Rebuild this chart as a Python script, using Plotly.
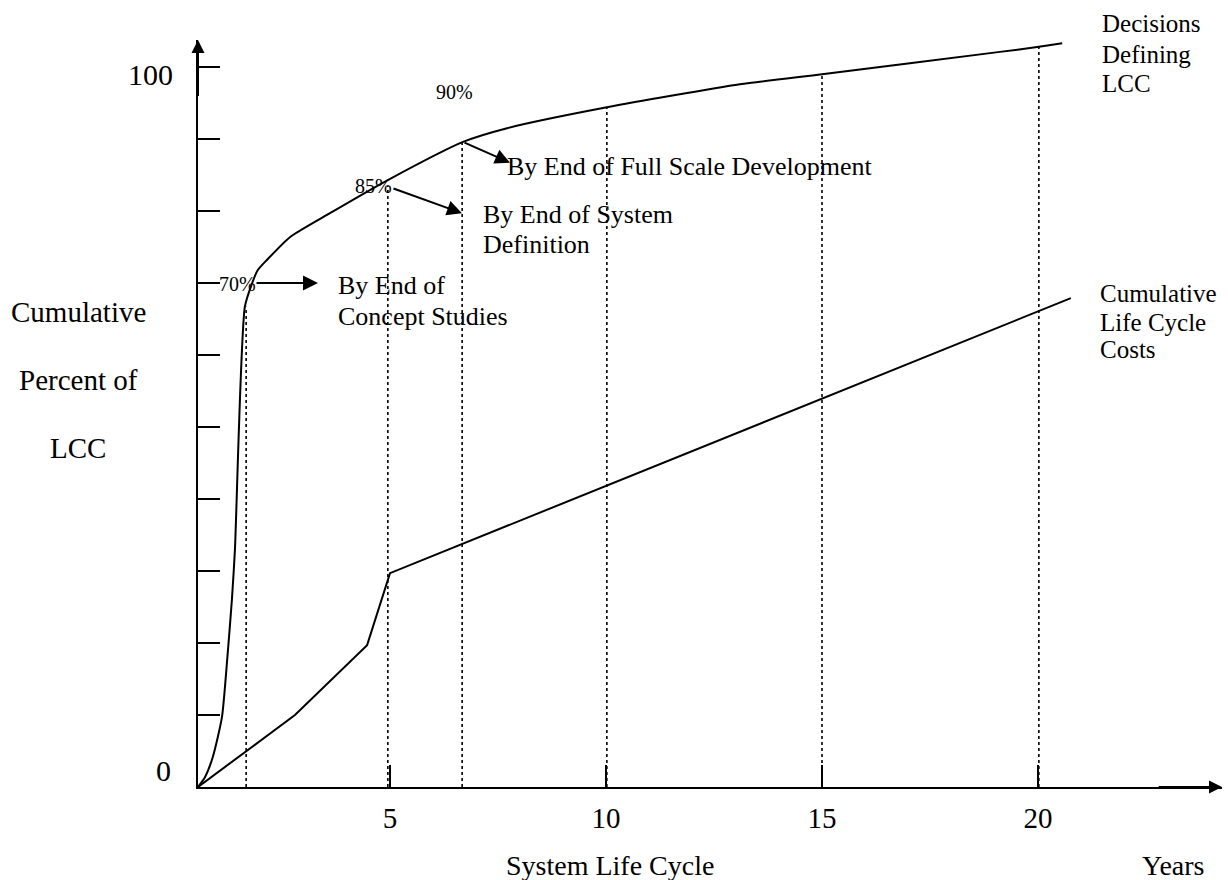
import plotly.graph_objects as go

# ---------------- data ----------------
decision_years = [0.556, 0.72, 0.90, 1.11, 1.23, 1.34, 1.41, 1.64, 1.81, 1.94, 2.15,
                  2.69, 3.61, 4.95, 6.69, 7.71, 10.02, 13.10, 15.0, 19.12, 20.02, 20.56]
decision_pct = [0, 1.4, 4.2, 9.7, 17.6, 26.0, 32.9, 66.7, 70.0, 71.8, 73.2,
                76.4, 79.7, 84.3, 89.6, 91.5, 94.4, 97.6, 99.0, 102.1, 102.8, 103.3]

cost_years = [0.556, 2.80, 4.47, 5.0, 20.76]
cost_pct = [0, 10.0, 19.7, 29.7, 67.9]

milestone_years = [1.67, 4.95, 6.67, 10.02, 15.0, 20.02]
milestone_tops = [66.7, 83.5, 89.6, 94.4, 99.0, 102.8]

x_tick_vals = [5, 10, 15, 20]
x_tick_labels = ["5", "10", "15", "20"]
y_tick_vals = [10, 20, 30, 40, 50, 60, 70, 80, 90, 100]
y_end_labels = ["0", "100"]

pct_labels = ["70%", "85%", "90%"]
arrow_tail_years = [1.875, 5.046, 6.69]
arrow_tail_pct = [70.0, 83.2, 89.6]
arrow_tip_years = [3.333, 6.667, 7.778]
arrow_tip_pct = [70.0, 79.7, 86.7]

# ---------------- geometry ----------------
W, H = 1228, 880
X0_PX, PX_PER_YEAR = 174.0, 43.2
Y0_PX, PX_PER_PCT = 787.0, 7.2
M_L, M_R, M_T, M_B = 198, 6, 40, 93
PLOT_W, PLOT_H = W - M_L - M_R, H - M_T - M_B
x_range = [(M_L - X0_PX) / PX_PER_YEAR, (W - M_R - X0_PX) / PX_PER_YEAR]
y_range = [(Y0_PX - (H - M_B)) / PX_PER_PCT, (Y0_PX - M_T) / PX_PER_PCT]


def px2paper_x(px):
    return (px - M_L) / PLOT_W


def px2paper_y(py):
    return (H - M_B - py) / PLOT_H


FONT = "Liberation Serif, Times New Roman, serif"
BLACK = "#000000"

fig = go.Figure()

# dotted milestone verticals
dx, dy = [], []
for m, t in zip(milestone_years, milestone_tops):
    dx += [m, m, None]
    dy += [y_range[0], t, None]
fig.add_trace(go.Scatter(x=dx, y=dy, mode="lines",
                         line=dict(color=BLACK, width=1.6, dash="dot"),
                         hoverinfo="skip", cliponaxis=False))

fig.add_trace(go.Scatter(x=decision_years, y=decision_pct, mode="lines",
                         line=dict(color=BLACK, width=2, shape="spline", smoothing=0.6),
                         name="Decisions Defining LCC", cliponaxis=False))
fig.add_trace(go.Scatter(x=cost_years, y=cost_pct, mode="lines",
                         line=dict(color=BLACK, width=2), name="Cumulative Life Cycle Costs",
                         cliponaxis=False))

ann = []

# axis arrowheads
ann.append(dict(x=x_range[0], y=y_range[1], ax=x_range[0], ay=y_range[1] - 8,
                xref="x", yref="y", axref="x", ayref="y", text="", showarrow=True,
                arrowhead=2, arrowsize=1.3, arrowwidth=2, arrowcolor=BLACK))
ann.append(dict(x=x_range[1], y=y_range[0], ax=x_range[1] - 1.5, ay=y_range[0],
                xref="x", yref="y", axref="x", ayref="y", text="", showarrow=True,
                arrowhead=2, arrowsize=1.3, arrowwidth=2, arrowcolor=BLACK))

# milestone arrows
for tx, ty, hx, hy in zip(arrow_tail_years, arrow_tail_pct, arrow_tip_years, arrow_tip_pct):
    ann.append(dict(x=hx, y=hy, ax=tx, ay=ty, xref="x", yref="y", axref="x", ayref="y",
                    text="", showarrow=True, arrowhead=2, arrowsize=1.5,
                    arrowwidth=2, arrowcolor=BLACK))


def label(text, px, py, size, xanchor="center"):
    ann.append(dict(x=px2paper_x(px), y=px2paper_y(py), xref="paper", yref="paper",
                    text=text, showarrow=False, xanchor=xanchor, yanchor="middle",
                    font=dict(family=FONT, size=size, color=BLACK)))


# y end labels
label(y_end_labels[1], 150, 74, 30)
label(y_end_labels[0], 163, 770, 30)

# percent labels
label(pct_labels[0], 237, 284, 20)
label(pct_labels[1], 373, 186, 20)
label(pct_labels[2], 454, 92, 20)

# milestone descriptions
label("By End of", 336, 285, 26, "left")
label("Concept Studies", 336, 316, 26, "left")
label("By End of System", 481, 214, 26, "left")
label("Definition", 481, 245, 26, "left")
label("By End of Full Scale Development", 505, 166, 26, "left")

# series labels
label("Decisions", 1100, 24, 25, "left")
label("Defining", 1100, 54, 25, "left")
label("LCC", 1100, 84, 25, "left")
label("Cumulative", 1098, 293, 25, "left")
label("Life Cycle", 1098, 322, 25, "left")
label("Costs", 1098, 349, 25, "left")

# axis titles
label("Cumulative", 78, 312, 29)
label("Percent of", 78, 380, 29)
label("LCC", 78, 448, 29)
label("System Life Cycle", 610, 865, 28)
label("Years", 1173, 865, 28)

fig.update_layout(
    width=W, height=H,
    margin=dict(l=M_L, r=M_R, t=M_T, b=M_B, pad=0),
    paper_bgcolor="white", plot_bgcolor="white",
    showlegend=False,
    annotations=ann,
    font=dict(family=FONT, color=BLACK),
    xaxis=dict(range=x_range, showgrid=False, zeroline=False, showline=True,
               linecolor=BLACK, linewidth=2, ticks="inside", ticklen=22,
               tickwidth=2, tickcolor=BLACK, tickvals=x_tick_vals,
               ticktext=x_tick_labels, tickfont=dict(family=FONT, size=29, color=BLACK),
               ticklabelstandoff=4, fixedrange=True),
    yaxis=dict(range=y_range, showgrid=False, zeroline=False, showline=True,
               linecolor=BLACK, linewidth=2, ticks="inside", ticklen=22,
               tickwidth=2, tickcolor=BLACK, tickvals=y_tick_vals,
               showticklabels=False, fixedrange=True),
)

fig.write_html("out.html", config={"displayModeBar": False},
               post_script="document.body.style.margin='0';")
